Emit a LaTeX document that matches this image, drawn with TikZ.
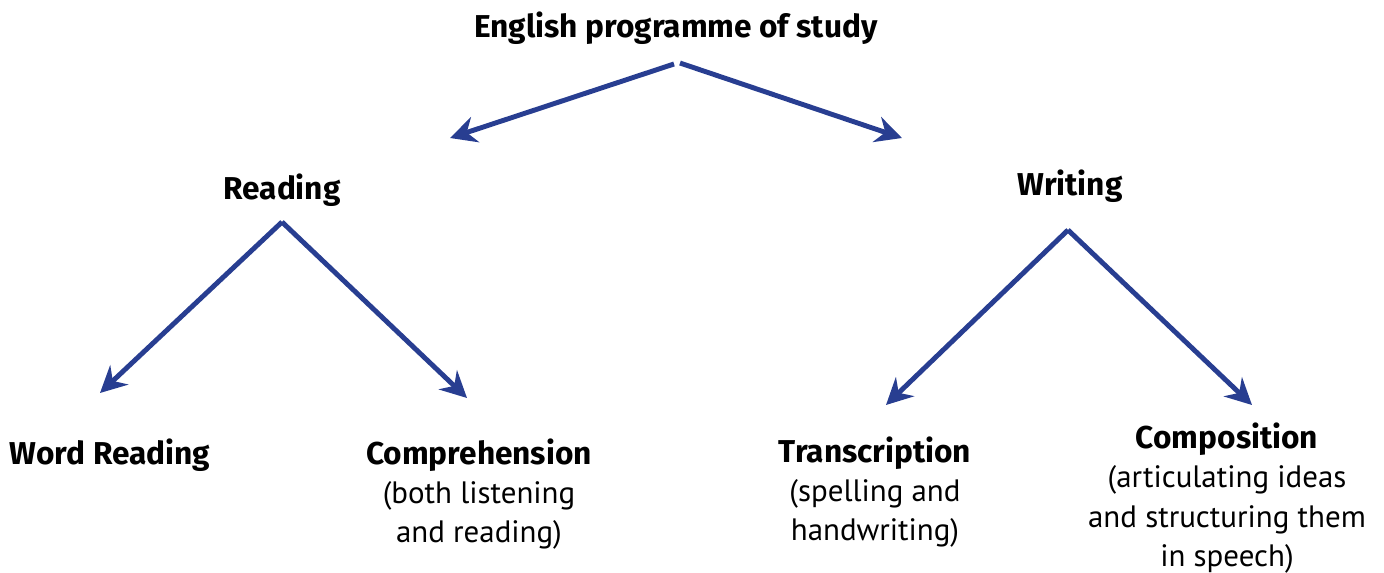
\documentclass[tikz,border=0pt]{standalone}
\usepackage{fontspec}
\setmainfont{PT Sans}
\newfontfamily\headfont{Fira Sans}
\usetikzlibrary{arrows.meta}
\definecolor{branchblue}{RGB}{40,62,145}

\begin{document}
\begin{tikzpicture}[x=0.02cm, y=-0.02cm,
    every node/.style={font=\fontsize{17.6pt}{22.3pt}\selectfont, align=center, inner sep=0pt},
    heading/.style={font=\fontsize{18pt}{22.3pt}\selectfont\headfont\bfseries},
    branch/.style={draw=branchblue, line width=2.8pt, -{Stealth[length=15pt,width=15pt,inset=5pt]}}]
    \useasboundingbox (0,0) rectangle (1384,572);

    % Headings
    \node[heading] (study) at (676,28) {English programme of study};
    \node[heading] (reading) at (282,190) {Reading};
    \node[heading] (writing) at (1070,186) {Writing};

    % Leaves
    \node[heading] (word) at (110,455) {Word Reading};
    \node (compr) at (479,494) {{\headfont\bfseries\fontsize{18pt}{22.3pt}\selectfont Comprehension}\\(both listening\\and reading)};
    \node (trans) at (875,492) {{\headfont\bfseries\fontsize{18pt}{22.3pt}\selectfont Transcription}\\(spelling and\\handwriting)};
    \node (compo) at (1227,498) {{\headfont\bfseries\fontsize{18pt}{22.3pt}\selectfont Composition}\\(articulating ideas\\and structuring them\\in speech)};

    % Arrow ends
    \coordinate (study-l) at (674,64);
    \coordinate (study-r) at (680,63);
    \coordinate (reading-foot) at (282,222);
    \coordinate (writing-foot) at (1068,230);
    \coordinate (reading-tip) at (450,138);
    \coordinate (writing-tip) at (902,138);
    \coordinate (word-tip) at (100,393);
    \coordinate (compr-tip) at (467,398);
    \coordinate (trans-tip) at (886,405);
    \coordinate (compo-tip) at (1252,405);

    % Arrows
    \draw[branch] (study-l) -- (reading-tip);
    \draw[branch] (study-r) -- (writing-tip);
    \draw[branch] (reading-foot) -- (word-tip);
    \draw[branch] (reading-foot) -- (compr-tip);
    \draw[branch] (writing-foot) -- (trans-tip);
    \draw[branch] (writing-foot) -- (compo-tip);

\end{tikzpicture}
\end{document}
